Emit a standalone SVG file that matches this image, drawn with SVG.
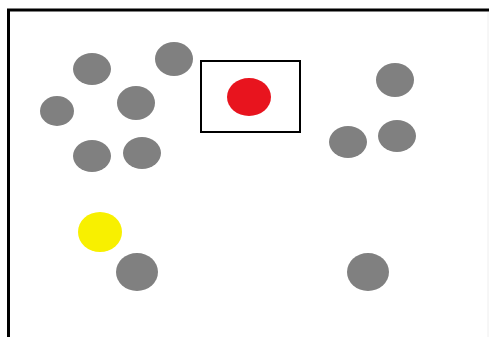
<svg xmlns="http://www.w3.org/2000/svg" width="490" height="337" viewBox="0 0 490 337">
<style>
.g{fill:#808080}
.frame{stroke:#000;stroke-width:3;fill:none}
</style>
<rect width="490" height="337" fill="#fff"/>
<g id="frame">
<path class="frame" d="M8.5,337 V10 H489"/>
<line x1="488" y1="12" x2="488" y2="337" stroke="#eeeeee" stroke-width="1"/>
</g>
<g id="box"><rect x="201" y="61" width="99" height="71" fill="none" stroke="#000" stroke-width="2"/></g>
<g id="red"><ellipse cx="249" cy="97" rx="22" ry="19" fill="#e8141e"/></g>
<g id="n1"><ellipse class="g" cx="92" cy="69" rx="19" ry="16"/></g>
<g id="n2"><ellipse class="g" cx="174" cy="59" rx="19" ry="17"/></g>
<g id="n3"><ellipse class="g" cx="57" cy="111" rx="17" ry="15"/></g>
<g id="n4"><ellipse class="g" cx="136" cy="103" rx="19" ry="17"/></g>
<g id="n5"><ellipse class="g" cx="92" cy="156" rx="19" ry="16"/></g>
<g id="n6"><ellipse class="g" cx="142" cy="153" rx="19" ry="16"/></g>
<g id="n7"><ellipse class="g" cx="395" cy="80" rx="19" ry="17"/></g>
<g id="n8"><ellipse class="g" cx="348" cy="142" rx="19" ry="16"/></g>
<g id="n9"><ellipse class="g" cx="397" cy="136" rx="19" ry="16"/></g>
<g id="yellow"><ellipse cx="100" cy="232" rx="22" ry="20" fill="#f8f000"/></g>
<g id="n10"><ellipse class="g" cx="137" cy="272" rx="21" ry="19"/></g>
<g id="n11"><ellipse class="g" cx="368" cy="272" rx="21" ry="19"/></g>
<g id="connectors"></g>
</svg>
